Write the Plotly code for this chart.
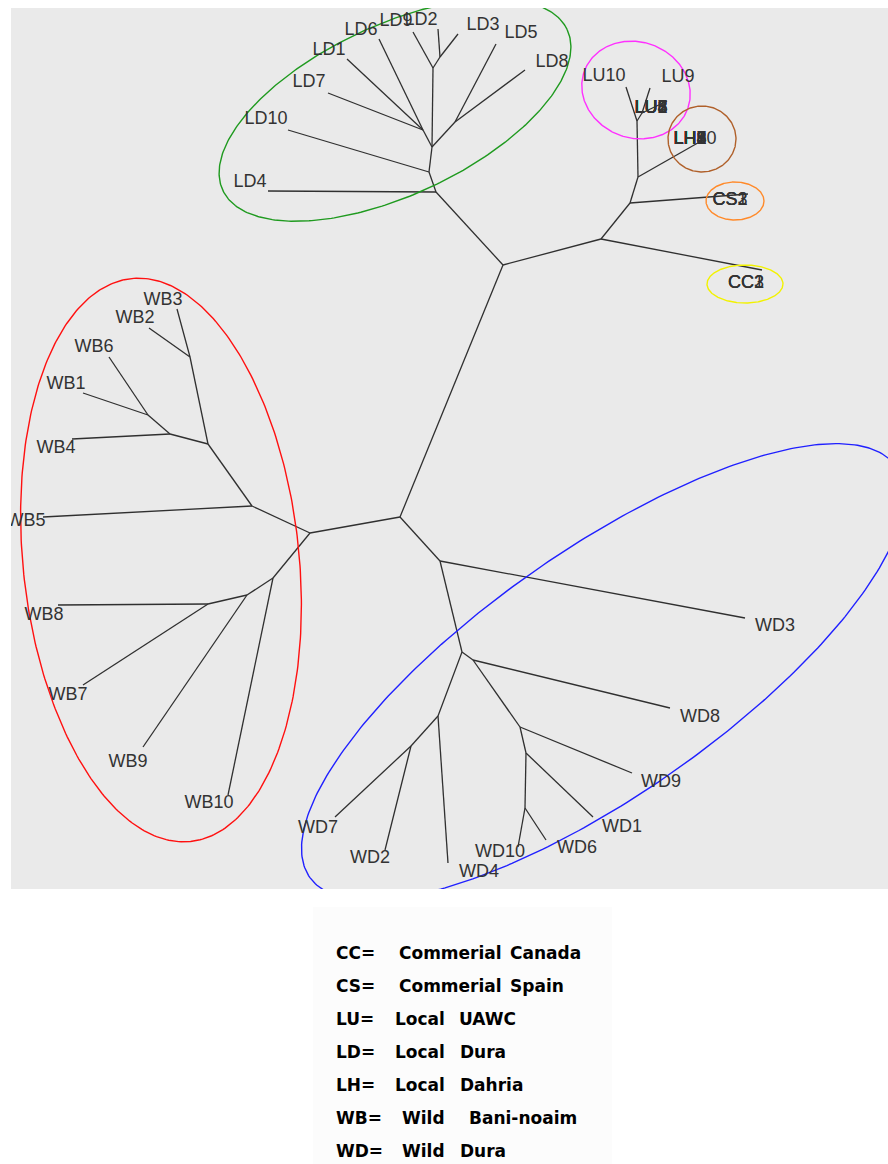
import numpy as np
import plotly.graph_objects as go

# ---------------------------------------------------------------
# Unrooted neighbour-joining tree of the accessions.
# Node coordinates are in drawing units (x to the right, y downward).
# ---------------------------------------------------------------
nodes = {
    # backbone
    "c0": (400, 517), "c_up": (503, 265), "c_right": (601, 239),
    # Local Dura clade
    "ld0": (436, 192), "ld1": (429, 172), "ld2": (432, 147), "ld3": (455, 122),
    "ld4": (423, 130), "ld5": (433, 68), "ld6": (440, 57),
    "LD4": (268, 191), "LD10": (288, 130), "LD5": (496, 44), "LD8": (525, 70),
    "LD7": (328, 93), "LD1": (347, 59), "LD6": (379, 39), "LD9": (413, 32),
    "LD2": (438, 29), "LD3": (458, 34),
    # commercial / UAWC / Dahria clade
    "k1": (630, 203), "k2": (638, 177), "lu0": (637, 121), "lu1": (642, 113),
    "CC": (762, 270), "CS": (748, 194), "LH": (703, 140),
    "LU10": (626, 87), "LU9": (650, 88), "LU8": (667, 101),
    # Wild Bani-noaim clade
    "w0": (310, 533), "w1": (252, 506), "w2": (208, 444), "w3": (190, 357),
    "w4": (170, 434), "w5": (148, 415), "w6": (273, 578), "w7": (247, 595),
    "w8": (208, 604),
    "WB5": (43, 517), "WB3": (177, 309), "WB2": (149, 328), "WB4": (72, 439),
    "WB6": (109, 357), "WB1": (83, 393), "WB10": (228, 795), "WB9": (143, 747),
    "WB8": (58, 605), "WB7": (83, 685),
    # Wild Dura clade
    "d0": (440, 561), "d1": (462, 652), "d2": (438, 716), "d3": (411, 746),
    "d4": (473, 660), "d5": (520, 727), "d6": (526, 753), "d7": (525, 808),
    "WD3": (745, 618), "WD7": (335, 817), "WD2": (385, 850), "WD4": (448, 863),
    "WD8": (670, 708), "WD9": (632, 773), "WD1": (593, 817), "WD10": (518, 847),
    "WD6": (546, 840),
}

edges = [
    ("c0", "c_up"), ("c_up", "ld0"), ("c_up", "c_right"), ("c0", "w0"), ("c0", "d0"),
    ("ld0", "LD4"), ("ld0", "ld1"), ("ld1", "LD10"), ("ld1", "ld2"),
    ("ld2", "ld3"), ("ld3", "LD5"), ("ld3", "LD8"),
    ("ld2", "ld4"), ("ld4", "LD7"), ("ld4", "LD1"), ("ld4", "LD6"),
    ("ld2", "ld5"), ("ld5", "LD9"), ("ld5", "ld6"), ("ld6", "LD2"), ("ld6", "LD3"),
    ("c_right", "CC"), ("c_right", "k1"), ("k1", "CS"), ("k1", "k2"),
    ("k2", "LH"), ("k2", "lu0"), ("lu0", "LU10"), ("lu0", "lu1"),
    ("lu1", "LU9"), ("lu1", "LU8"),
    ("w0", "w1"), ("w1", "WB5"), ("w1", "w2"), ("w2", "w3"), ("w3", "WB3"),
    ("w3", "WB2"), ("w2", "w4"), ("w4", "WB4"), ("w4", "w5"), ("w5", "WB6"),
    ("w5", "WB1"),
    ("w0", "w6"), ("w6", "WB10"), ("w6", "w7"), ("w7", "WB9"), ("w7", "w8"),
    ("w8", "WB8"), ("w8", "WB7"),
    ("d0", "WD3"), ("d0", "d1"), ("d1", "d2"), ("d2", "d3"), ("d3", "WD7"),
    ("d3", "WD2"), ("d2", "WD4"), ("d1", "d4"), ("d4", "WD8"), ("d4", "d5"),
    ("d5", "WD9"), ("d5", "d6"), ("d6", "WD1"), ("d6", "d7"), ("d7", "WD10"),
    ("d7", "WD6"),
]

# leaf labels: text and where it is written
label_text = ["LD6", "LD9", "LD2", "LD3", "LD5", "LD8", "LD1", "LD7", "LD10", "LD4",
              "LU10", "LU9",
              "WB3", "WB2", "WB6", "WB1", "WB4", "WB5", "WB8", "WB7", "WB9", "WB10",
              "WD3", "WD8", "WD9", "WD1", "WD6", "WD10", "WD4", "WD2", "WD7"]
label_x = [361, 396, 421, 483, 521, 552, 329, 309, 266, 250,
           604, 678,
           163, 135, 94, 66, 56, 26, 44, 68, 128, 209,
           775, 700, 661, 622, 577, 500, 479, 370, 318]
label_y = [30, 21, 20, 25, 33, 62, 50, 82, 119, 182,
           76, 77,
           300, 318, 347, 384, 448, 521, 615, 695, 762, 803,
           626, 717, 782, 827, 848, 852, 872, 858, 828]

# accessions whose tips coincide: all names written on one spot
stacked_groups = [
    ("CC", 3, 746, 283),
    ("CS", 3, 730, 200),
    ("LU", 8, 651, 108),
    ("LH", 9, 690, 139),
]
extra_stacked = [("LH10", 695, 139)]

legend_rows = [
    ("CC=", "Commerial", "Canada"),
    ("CS=", "Commerial", "Spain"),
    ("LU=", "Local", "UAWC"),
    ("LD=", "Local", "Dura"),
    ("LH=", "Local", "Dahria"),
    ("WB=", "Wild", "Bani-noaim"),
    ("WD=", "Wild", "Dura"),
]

# ---------------------------------------------------------------
# drawing
# ---------------------------------------------------------------
W, H = 888, 1164
X0, X1 = 11, 888     # plotting panel, horizontal
Y0, Y1 = 8, 889      # plotting panel, vertical

fig = go.Figure()

ex, ey = [], []
for a, b in edges:
    ex += [nodes[a][0], nodes[b][0], None]
    ey += [nodes[a][1], nodes[b][1], None]
fig.add_trace(go.Scatter(x=ex, y=ey, mode="lines",
                         line=dict(color="#303030", width=1.3),
                         hoverinfo="skip", showlegend=False))

# group outlines: centre, half-axes, tilt of the long axis (deg, counter-clockwise on screen)
outlines = [
    ((395, 110), 190, 85, 25, "#1f9a1f"),
    ((161, 560), 283, 138, -84, "#ff1010"),
    ((603, 672), 358, 122, 35, "#2020ff"),
    ((636, 90), 55, 48, -20, "#ff30ff"),
    ((702, 139), 34, 33, 0, "#b0602a"),
    ((735, 201), 29, 19, 0, "#ff8a2a"),
    ((745, 284), 38, 19, 0, "#f2f200"),
]
t = np.linspace(0, 2 * np.pi, 361)
for (cx, cy), a, b, ang, col in outlines:
    th = np.deg2rad(ang)
    ux, uy = np.cos(th), -np.sin(th)
    vx, vy = np.sin(th), np.cos(th)
    xs = cx + a * np.cos(t) * ux + b * np.sin(t) * vx
    ys = cy + a * np.cos(t) * uy + b * np.sin(t) * vy
    fig.add_trace(go.Scatter(x=xs, y=ys, mode="lines",
                             line=dict(color=col, width=1.4),
                             hoverinfo="skip", showlegend=False))

lt, lx, ly = list(label_text), list(label_x), list(label_y)
for prefix, n, gx, gy in stacked_groups:
    for i in range(1, n + 1):
        lt.append(f"{prefix}{i}")
        lx.append(gx)
        ly.append(gy)
for txt, gx, gy in extra_stacked:
    lt.append(txt)
    lx.append(gx)
    ly.append(gy)

fig.add_trace(go.Scatter(x=lx, y=ly, text=lt, mode="text",
                         textposition="middle center",
                         textfont=dict(family="Liberation Sans, Arial, sans-serif",
                                       size=18, color="#333333"),
                         cliponaxis=True, hoverinfo="skip", showlegend=False))


def px_to_paper(px, py):
    return (px - X0) / (X1 - X0), (Y1 - py) / (Y1 - Y0)


# key panel under the tree
kx0, ky0 = px_to_paper(313, 907)
kx1, ky1 = px_to_paper(612, 1164)
fig.add_shape(type="rect", xref="paper", yref="paper",
              x0=kx0, x1=kx1, y0=ky1, y1=ky0,
              fillcolor="#fcfcfc", line=dict(width=0), layer="below")

row_y = [953, 986, 1019, 1052, 1085, 1118, 1151]
col_x = [(334, 397, 508), (334, 397, 508), (334, 393, 457), (334, 393, 458),
         (334, 393, 458), (334, 400, 467), (334, 400, 458)]
for (w1, w2, w3), yy, xs3 in zip(legend_rows, row_y, col_x):
    for word, xx in zip((w1, w2, w3), xs3):
        px, py = px_to_paper(xx, yy)
        fig.add_annotation(x=px, y=py, xref="paper", yref="paper",
                           text=word, showarrow=False,
                           xanchor="left", yanchor="middle",
                           font=dict(family="DejaVu Sans, sans-serif", size=17,
                                     color="#000000", weight="bold"))

fig.update_xaxes(range=[X0, X1], visible=False, showgrid=False, zeroline=False,
                 fixedrange=True)
fig.update_yaxes(range=[Y1, Y0], visible=False, showgrid=False, zeroline=False,
                 fixedrange=True)
fig.update_layout(width=W, height=H,
                  margin=dict(l=X0, r=W - X1, t=Y0, b=H - Y1, pad=0),
                  plot_bgcolor="#eaeaea", paper_bgcolor="#ffffff",
                  showlegend=False)

fig.write_html("out.html")
